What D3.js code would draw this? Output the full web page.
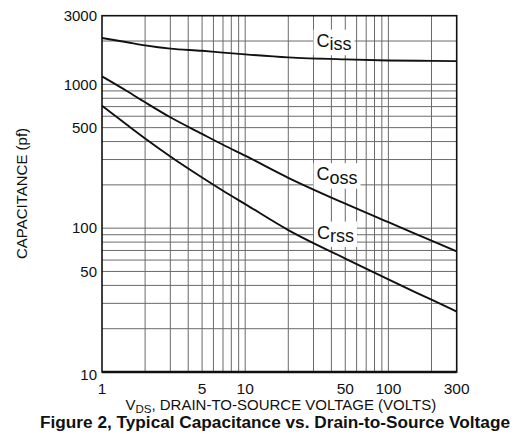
<!DOCTYPE html>
<html><head><meta charset="utf-8">
<script src="https://cdn.jsdelivr.net/npm/d3@7"></script>
<style>
html,body{margin:0;padding:0;background:#fff;}
svg{display:block;font-family:"Liberation Sans",Arial,Helvetica,sans-serif;}
</style></head>
<body>
<svg id="chart" width="523" height="442"></svg>
<script>
// ---- data ----
const vds  = [1, 1.5, 2, 3, 5, 7, 10, 20, 50, 100, 200, 300];
const ciss = [2100, 1960, 1866, 1770, 1710, 1662, 1615, 1540, 1490, 1465, 1455, 1450];
const coss = [1135, 895, 750, 590, 452, 380, 319, 224, 148, 110, 82, 69];
const crss = [710, 521, 420, 315, 225, 182, 147, 97, 61.5, 44, 31.8, 26.3];
const xTickLabels = [1, 5, 10, 50, 100, 300];
const yTickLabels = [3000, 1000, 500, 100, 50, 10];
const xGrid = [2,3,4,5,6,7,8,9,10,20,30,40,50,60,70,80,90,100,200];
const yGrid = [20,30,40,50,60,70,80,90,100,200,300,400,500,600,700,800,900,1000,2000];
const seriesLabels = [
  {main:"C", sub:"iss", v:ciss},
  {main:"C", sub:"oss", v:coss},
  {main:"C", sub:"rss", v:crss}
];

// ---- layout ----
const L = 102, R = 456.7, T = 15.7, B = 372;
const svg = d3.select("#chart");
const x = d3.scaleLog().domain([1, 300]).range([L, R]);
const y = d3.scaleLog().domain([10, 3000]).range([B, T]);

// gridlines
const g = svg.append("g");
g.selectAll("line.vx").data(xGrid).join("line")
  .attr("x1", d => x(d)).attr("x2", d => x(d))
  .attr("y1", T).attr("y2", B)
  .attr("stroke", "#6a6a6a").attr("stroke-width", 1);
g.selectAll("line.hy").data(yGrid).join("line")
  .attr("y1", d => y(d)).attr("y2", d => y(d))
  .attr("x1", L).attr("x2", R)
  .attr("stroke", "#6a6a6a").attr("stroke-width", 1);

// labels with white boxes interrupting the grid
const labelPos = [
  {x: 316.5, y: 46.7},
  {x: 316.5, y: 180.2},
  {x: 317, y: 238.5}
];
const lg = svg.append("g");
seriesLabels.forEach((s, i) => {
  const p = labelPos[i];
  const t = lg.append("text").attr("x", p.x).attr("y", p.y)
    .attr("font-size", 18).attr("fill", "#111");
  t.append("tspan").text(s.main);
  t.append("tspan").attr("dy", 3.5).text(s.sub);
  const bb = t.node().getBBox();
  lg.insert("rect", "text")
    .attr("x", bb.x - 3).attr("y", bb.y - 1)
    .attr("width", bb.width + 6).attr("height", bb.height + 2)
    .attr("fill", "#fff");
});

// frame
svg.append("rect").attr("x", L).attr("y", T).attr("width", R - L).attr("height", B - T)
  .attr("fill", "none").attr("stroke", "#111").attr("stroke-width", 1.6);
svg.append("line").attr("x1", L).attr("x2", R).attr("y1", B).attr("y2", B)
  .attr("stroke", "#111").attr("stroke-width", 2.4);

// curves
const line = d3.line().x((d, i) => x(vds[i])).y(d => y(d)).curve(d3.curveMonotoneX);
seriesLabels.forEach(s => {
  svg.append("path").attr("d", line(s.v))
    .attr("fill", "none").attr("stroke", "#111").attr("stroke-width", 1.9);
});

// axes tick labels
svg.append("g").selectAll("text").data(xTickLabels).join("text")
  .attr("x", d => x(d)).attr("y", 393.5)
  .attr("text-anchor", "middle").attr("font-size", 15.5).attr("fill", "#111")
  .text(d => d);
svg.append("g").selectAll("text").data(yTickLabels).join("text")
  .attr("x", 97).attr("y", d => y(d) + (d === 10 ? 3 : 0))
  .attr("dy", "0.35em")
  .attr("text-anchor", "end").attr("font-size", 15).attr("fill", "#111")
  .text(d => d);

// x axis title
const xt = svg.append("text").attr("x", 280.8).attr("y", 410)
  .attr("text-anchor", "middle").attr("font-size", 15).attr("fill", "#111");
xt.append("tspan").text("V");
xt.append("tspan").attr("font-size", 11.5).attr("dy", 3.3).text("DS");
xt.append("tspan").attr("dy", -3.3).text(", DRAIN-TO-SOURCE VOLTAGE (VOLTS)");

// y axis title
svg.append("text")
  .attr("transform", `translate(26.5,193.5) rotate(-90)`)
  .attr("text-anchor", "middle").attr("font-size", 15).attr("fill", "#111")
  .text("CAPACITANCE (pf)");

// caption
svg.append("text").attr("x", 275).attr("y", 428.3)
  .attr("text-anchor", "middle").attr("font-size", 16).attr("font-weight", "bold")
  .attr("fill", "#111")
  .attr("textLength", 470).attr("lengthAdjust", "spacingAndGlyphs")
  .text("Figure 2, Typical Capacitance vs. Drain-to-Source Voltage");
</script>
</body></html>
